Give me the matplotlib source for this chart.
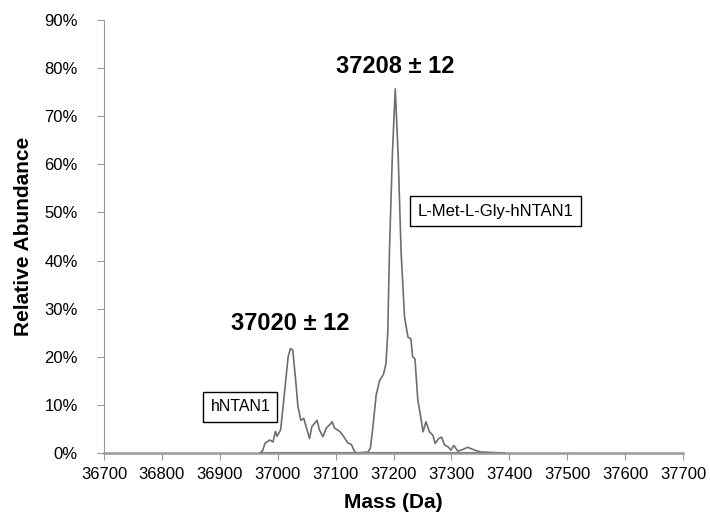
import matplotlib.pyplot as plt
import numpy as np

plt.rcParams['font.family'] = ['Liberation Sans', 'DejaVu Sans']

# spectrum (mass in Da, abundance in %)
mass = [36969, 36974, 36978, 36986, 36992, 36996, 36999, 37005, 37011, 37018,
        37022, 37026, 37031, 37035, 37040, 37045, 37049, 37055, 37059, 37064,
        37068, 37072, 37078, 37084, 37090, 37094, 37098, 37107, 37114, 37121,
        37127, 37132, 37136, 37156, 37160, 37164, 37170, 37176, 37180, 37183,
        37187, 37190, 37193, 37198, 37203, 37208, 37213, 37219, 37225, 37230,
        37233, 37237, 37242, 37247, 37251, 37256, 37262, 37268, 37272, 37278,
        37283, 37288, 37295, 37299, 37304, 37311, 37319, 37328, 37340, 37351,
        37391]
abundance = [0.0, 0.5, 2.0, 2.7, 2.3, 4.5, 3.5, 4.8, 11.7, 20.0,
             21.7, 21.4, 15.1, 9.6, 6.8, 7.2, 5.5, 3.0, 5.5, 6.2,
             6.8, 4.8, 3.4, 5.2, 5.9, 6.5, 5.2, 4.5, 3.4, 2.1,
             1.8, 0.5, 0.0, 0.2, 1.0, 5.0, 12.0, 15.1, 15.8, 16.5,
             18.6, 24.8, 42.0, 62.0, 75.7, 62.0, 42.0, 28.3, 24.1, 23.7,
             20.0, 19.6, 11.0, 7.5, 4.4, 6.5, 4.4, 3.7, 2.0, 3.0,
             3.3, 1.7, 1.2, 0.6, 1.6, 0.4, 0.7, 1.2, 0.6, 0.2,
             0.0]

xticks = np.arange(36700, 37701, 100)
yticks = np.arange(0, 91, 10)

fig = plt.figure(figsize=(7.1, 5.21), dpi=100)
ax = fig.add_axes([0.1465, 0.1305, 0.8155, 0.831])

ax.plot(mass, abundance, color='#6e6e6e', lw=1.2)
ax.plot([mass[0], mass[-1]], [0, 0], color='#333333', lw=1.5)

ax.set_xlim(36700, 37700)
ax.set_ylim(0, 90)
ax.set_xticks(xticks)
ax.set_yticks(yticks)
ax.set_yticklabels([f'{v}%' for v in yticks])
ax.tick_params(axis='both', labelsize=12, color='#999999', length=5)
ax.tick_params(axis='x', pad=5)
ax.tick_params(axis='y', pad=14)

for s in ['top', 'right']:
    ax.spines[s].set_visible(False)
ax.spines['left'].set_color('#999999')
ax.spines['bottom'].set_color('#999999')
ax.spines['bottom'].set_linewidth(1.8)

ax.set_xlabel('Mass (Da)', fontsize=15, fontweight='bold', labelpad=8)
ax.set_ylabel('Relative Abundance', fontsize=15, fontweight='bold', labelpad=8)

ax.text(37203, 78.0, '37208 ± 12', ha='center', va='bottom', fontsize=17, fontweight='bold')
ax.text(37022, 24.5, '37020 ± 12', ha='center', va='bottom', fontsize=17, fontweight='bold')

box = dict(boxstyle='square,pad=0.45', fc='white', ec='black', lw=1)
ax.text(37242, 50.3, 'L-Met-L-Gly-hNTAN1', ha='left', va='center', fontsize=12, bbox=box)
ax.text(36884, 9.6, 'hNTAN1', ha='left', va='center', fontsize=11.5, bbox=box)

plt.savefig('out.png', dpi=100)
